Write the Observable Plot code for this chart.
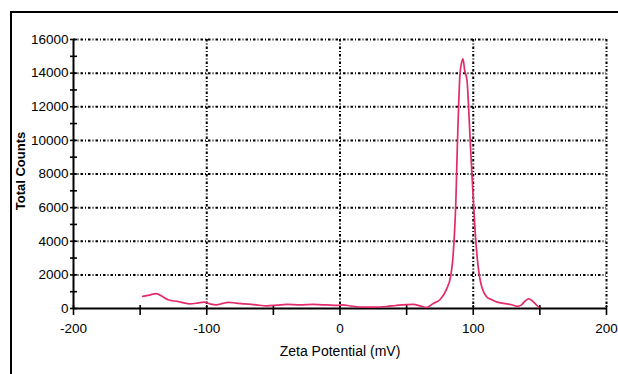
<!DOCTYPE html>
<html>
<head>
<meta charset="utf-8">
<script src="https://cdn.jsdelivr.net/npm/d3@7"></script>
<script src="https://cdn.jsdelivr.net/npm/@observablehq/plot@0.6"></script>
<style>
  html, body { margin: 0; padding: 0; background: #fff; overflow: hidden; }
  #wrap { position: relative; width: 618px; height: 374px; }
  #border { position: absolute; left: 10px; top: 11px; width: 640px; height: 400px; border-left: 2px solid #000; border-top: 2px solid #000; }
  #chart { position: absolute; left: 0; top: 0; }
</style>
</head>
<body>
<div id="wrap"><div id="border"></div><div id="chart"></div></div>
<script>
const zeta = [-148,-143,-138,-133,-129,-122,-113,-107,-102,-97,-93,-88,-84,-78,-72,-63,-55,-47,-40,-30,-20,-10,-2,2,8,15,25,35,42,50,55,60,65,70,75,80,83,84.5,86,87,88,89,90,91.2,92.3,93.5,95.4,96.5,97.7,99,100.4,101.5,103,104.5,106.7,110,114,118,123,128,133,136,139,141.6,144,147,149];
const counts = [720,800,890,700,520,420,280,320,375,260,220,300,370,320,280,220,160,200,240,220,240,210,180,220,150,90,80,120,180,230,240,160,60,300,520,1150,1900,2800,4600,6500,9500,12000,13900,14600,14850,14200,13500,12000,10000,8000,6000,4500,3000,2000,1200,700,520,380,300,240,130,200,450,570,480,250,80];
const yTicks = [0,2000,4000,6000,8000,10000,12000,14000,16000];
const yMinorTicks = d3.range(0, 16001, 1000);
const xTicks = [-200,-100,0,100,200];
const xMinorTicks = [-200,-150,-100,-50,0,50,100,150,200];
const yGrid = [2000,4000,6000,8000,10000,12000,14000,16000];
const xGrid = [-100,0,100,200];
const xLabel = "Zeta Potential (mV)";
const yLabel = "Total Counts";

const data = zeta.map((z, i) => ({z, c: counts[i]}));
const font = "'Liberation Sans', Arial, sans-serif";
const dash = "2.5,2,1,2";

const chart = Plot.plot({
  width: 618,
  height: 374,
  marginLeft: 73,
  marginRight: 12,
  marginTop: 39,
  marginBottom: 66,
  style: {fontFamily: font, fontSize: "13px", color: "#000", background: "transparent"},
  x: {domain: [-200, 200]},
  y: {domain: [0, 16000]},
  marks: [
    Plot.gridY(yGrid, {stroke: "#000", strokeOpacity: 1, strokeWidth: 2, strokeDasharray: dash}),
    Plot.gridX(xGrid, {stroke: "#000", strokeOpacity: 1, strokeWidth: 2, strokeDasharray: dash}),
    Plot.ruleX([-200], {stroke: "#000", strokeWidth: 2}),
    Plot.ruleY([0], {stroke: "#000", strokeWidth: 2.2}),
    Plot.axisY(yMinorTicks, {tickSize: 7, dx: 4, text: null, strokeWidth: 1.6, label: null}),
    Plot.axisY(yTicks, {tickSize: 0, tickPadding: 5, tickFormat: d => String(d), fontSize: 13.5, letterSpacing: "-0.7px", label: null}),
    Plot.axisX(xMinorTicks, {tickSize: 10, dy: -3, text: null, strokeWidth: 1.6, label: null}),
    Plot.axisX(xTicks, {tickSize: 0, tickPadding: 15, tickFormat: d => String(d), fontSize: 13.5, letterSpacing: "-0.7px", label: null}),
    Plot.text([xLabel], {frameAnchor: "bottom", dy: 47, text: d => d, fontSize: 14, letterSpacing: "-0.4px", fill: "#000"}),
    Plot.text([yLabel], {frameAnchor: "left", textAnchor: "middle", dx: -53, dy: -3, rotate: -90, text: d => d, fontSize: 13, fontWeight: "bold", letterSpacing: "0.4px", fill: "#000"}),
    Plot.line(data, {x: "z", y: "c", stroke: "#e22a6c", strokeWidth: 1.7, curve: "monotone-x"})
  ]
});
document.getElementById("chart").appendChild(chart);
</script>
</body>
</html>
